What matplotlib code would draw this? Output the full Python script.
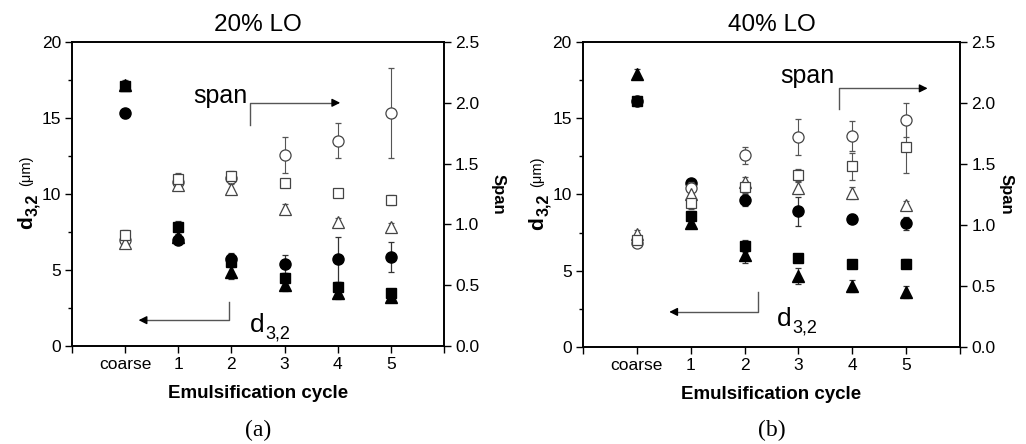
import matplotlib
matplotlib.use("Agg")
import matplotlib.pyplot as plt
from matplotlib.ticker import MultipleLocator, FixedLocator
from matplotlib.transforms import offset_copy

plt.rcParams['font.family'] = ['Liberation Sans', 'DejaVu Sans']

cycles = [0, 1, 2, 3, 4, 5]
xticklabels = ["coarse", "1", "2", "3", "4", "5"]
titles = ["20% LO", "40% LO"]
panel_labels = ["(a)", "(b)"]

# Panel (a) 20% LO
a_d_circle = [15.3, 7.0, 5.7, 5.4, 5.7, 5.85]
a_d_circle_err = [0.3, 0.2, 0.4, 0.6, 1.5, 1.0]
a_d_square = [17.1, 7.8, 5.5, 4.5, 3.9, 3.5]
a_d_square_err = [0.2, 0.4, 0.3, 0.3, 0.3, 0.2]
a_d_tri = [17.2, 7.2, 4.9, 4.0, 3.5, 3.2]
a_d_tri_err = [0.3, 0.2, 0.5, 0.4, 0.4, 0.3]
a_s_circle = [0.87, 1.35, 1.38, 1.57, 1.69, 1.92]
a_s_circle_err = [0.03, 0.04, 0.04, 0.15, 0.14, 0.37]
a_s_square = [0.91, 1.37, 1.40, 1.34, 1.26, 1.20]
a_s_square_err = [0.04, 0.05, 0.04, 0.03, 0.03, 0.04]
a_s_tri = [0.85, 1.32, 1.29, 1.13, 1.02, 0.98]
a_s_tri_err = [0.03, 0.04, 0.04, 0.04, 0.03, 0.03]

# Panel (b) 40% LO
b_d_circle = [16.1, 10.75, 9.65, 8.9, 8.4, 8.1]
b_d_circle_err = [0.2, 0.2, 0.4, 0.95, 0.3, 0.45]
b_d_square = [16.1, 8.6, 6.6, 5.85, 5.45, 5.45]
b_d_square_err = [0.2, 0.3, 0.4, 0.2, 0.2, 0.3]
b_d_tri = [17.9, 8.1, 6.0, 4.65, 4.0, 3.6]
b_d_tri_err = [0.3, 0.3, 0.5, 0.5, 0.4, 0.4]
b_s_circle = [0.85, 1.30, 1.57, 1.72, 1.73, 1.86]
b_s_circle_err = [0.03, 0.05, 0.07, 0.15, 0.12, 0.14]
b_s_square = [0.88, 1.18, 1.31, 1.41, 1.48, 1.64]
b_s_square_err = [0.03, 0.05, 0.05, 0.05, 0.11, 0.21]
b_s_tri = [0.93, 1.25, 1.35, 1.30, 1.26, 1.16]
b_s_tri_err = [0.03, 0.04, 0.04, 0.05, 0.05, 0.04]

panels = [
    dict(d=[(a_d_square, a_d_square_err, 's'), (a_d_circle, a_d_circle_err, 'o'), (a_d_tri, a_d_tri_err, '^')],
         s=[(a_s_circle, a_s_circle_err, 'o'), (a_s_tri, a_s_tri_err, '^'), (a_s_square, a_s_square_err, 's')],
         span_arrow=dict(vx=2.35, y0=1.82, y1=2.0, hx=4.1), span_text=(1.8, 2.06),
         d_arrow=dict(vx=1.95, y0=2.9, y1=1.7, hx=0.2), d_text=(2.35, 0.9), span_pad=19),
    dict(d=[(b_d_square, b_d_square_err, 's'), (b_d_circle, b_d_circle_err, 'o'), (b_d_tri, b_d_tri_err, '^')],
         s=[(b_s_circle, b_s_circle_err, 'o'), (b_s_tri, b_s_tri_err, '^'), (b_s_square, b_s_square_err, 's')],
         span_arrow=dict(vx=3.75, y0=1.95, y1=2.12, hx=5.45), span_text=(3.17, 2.22),
         d_arrow=dict(vx=2.25, y0=3.6, y1=2.3, hx=0.55), d_text=(2.6, 1.35), span_pad=13),
]

W, H = 1026, 444
fig = plt.figure(figsize=(W / 100, H / 100), dpi=100)
positions = [[0.0702, 0.2207, 0.3625, 0.6847], [0.5682, 0.2185, 0.3675, 0.6869]]

for i, p in enumerate(panels):
    ax = fig.add_axes(positions[i])
    ax2 = ax.twinx()
    for vals, err, m in p['d']:
        ax.errorbar(cycles, vals, yerr=err, fmt=m, color='black', mfc='black', mec='black',
                    ms=9 if m == '^' else (7.5 if m == 's' else 8), elinewidth=0.9, ecolor='#333333',
                    capsize=2.5, capthick=0.9, zorder=3)
    for vals, err, m in p['s']:
        ax2.errorbar(cycles, vals, yerr=err, fmt=m, color='#444444', mfc='white', mec='#444444',
                     mew=0.9, ms=9 if m == '^' else (7.5 if m == 's' else 8), elinewidth=0.8,
                     ecolor='#555555', capsize=2.5, capthick=0.8, zorder=3)
    ax.set_xlim(-1, 6)
    ax.set_ylim(0, 20)
    ax2.set_ylim(0, 2.5)
    ax.xaxis.set_major_locator(FixedLocator(list(range(-1, 7))))
    ax.set_xticklabels([""] + xticklabels + [""])
    ax.yaxis.set_major_locator(MultipleLocator(5))
    ax.yaxis.set_minor_locator(MultipleLocator(2.5))
    ax2.yaxis.set_major_locator(FixedLocator([0, 0.5, 1.0, 1.5, 2.0, 2.5]))
    ax2.set_yticklabels([f"{v:.1f}" for v in [0, 0.5, 1.0, 1.5, 2.0, 2.5]])
    for a in (ax, ax2):
        a.tick_params(axis='both', which='major', direction='out', length=5, width=1, labelsize=12.5, pad=3)
        a.tick_params(axis='both', which='minor', direction='out', length=3, width=1)
        for sp in a.spines.values():
            sp.set_linewidth(1.2)
    ax.set_title(titles[i], fontsize=17.5, pad=8)
    ax.set_xlabel("Emulsification cycle", fontsize=13.5, fontweight='bold', labelpad=9)
    ax2.set_ylabel("Span", fontsize=12, fontweight='bold', rotation=-90, labelpad=p['span_pad'])

    # left y label built from pieces: bold d, bold subscript 3,2, smaller (μm)
    x0 = positions[i][0] - 40 / W
    y0 = positions[i][1] + positions[i][3] * 0.385
    t = fig.transFigure
    fig.text(x0, y0, "d", transform=t, rotation=90, rotation_mode='anchor', ha='left',
             va='baseline', fontsize=15, fontweight='bold')
    fig.text(x0, y0, "3,2", transform=offset_copy(t, fig=fig, x=3.5, y=9.5, units='points'),
             rotation=90, rotation_mode='anchor', ha='left', va='baseline', fontsize=11.5, fontweight='bold')
    fig.text(x0, y0, "(μm)", transform=offset_copy(t, fig=fig, x=-1.5, y=31, units='points'),
             rotation=90, rotation_mode='anchor', ha='left', va='baseline', fontsize=10.5)

    # span arrow
    sa = p['span_arrow']
    ax2.plot([sa['vx'], sa['vx'], sa['hx'] - 0.15], [sa['y0'], sa['y1'], sa['y1']], color='#555555', lw=1)
    ax2.annotate("", xy=(sa['hx'], sa['y1']), xytext=(sa['hx'] - 0.2, sa['y1']),
                 arrowprops=dict(arrowstyle='-|>', color='black', lw=1, mutation_scale=12))
    ax2.text(p['span_text'][0], p['span_text'][1], "span", fontsize=18, ha='center', va='center')
    # d3,2 arrow
    da = p['d_arrow']
    ax.plot([da['vx'], da['vx'], da['hx'] + 0.15], [da['y0'], da['y1'], da['y1']], color='#555555', lw=1)
    ax.annotate("", xy=(da['hx'], da['y1']), xytext=(da['hx'] + 0.2, da['y1']),
                arrowprops=dict(arrowstyle='-|>', color='black', lw=1, mutation_scale=12))
    ax.text(p['d_text'][0], p['d_text'][1], "d", fontsize=19, ha='left', va='baseline')
    ax.text(p['d_text'][0], p['d_text'][1], "3,2",
            transform=offset_copy(ax.transData, fig=fig, x=10.8, y=-4.5, units='points'),
            fontsize=13, ha='left', va='baseline')
    fig.text(positions[i][0] + positions[i][2] / 2, 0.03, panel_labels[i], fontsize=17,
             ha='center', va='center', family=['Liberation Serif', 'DejaVu Serif'])

fig.savefig("out.png", dpi=100)
